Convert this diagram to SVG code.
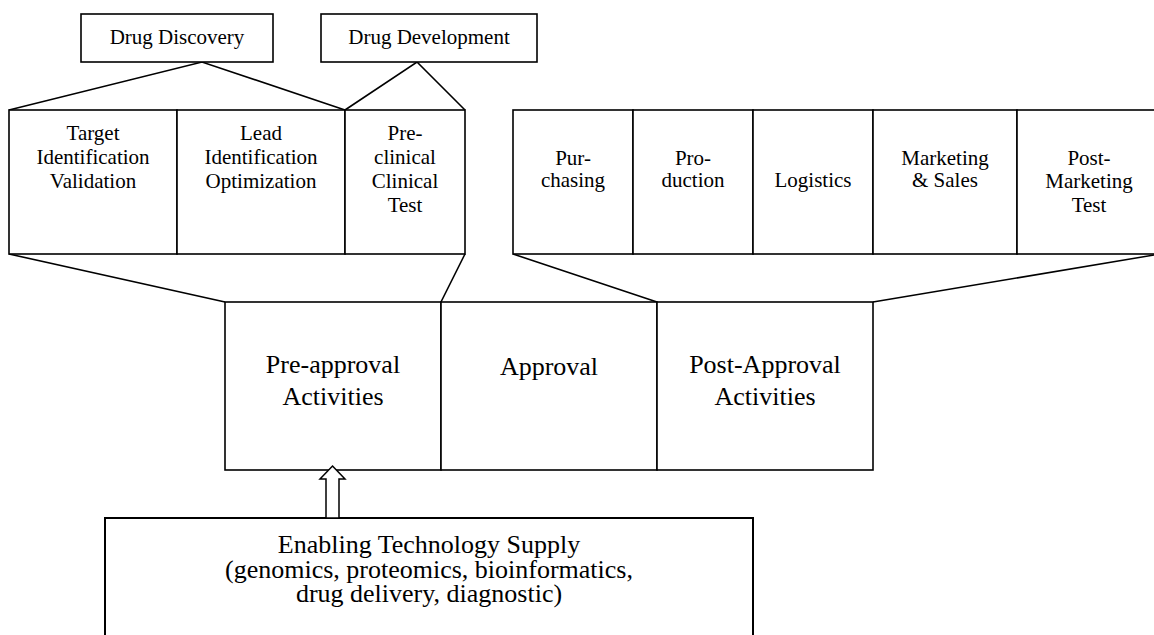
<svg xmlns="http://www.w3.org/2000/svg" width="1154" height="635" viewBox="0 0 1154 635">
<style>
  rect, .ln { fill: #fff; stroke: #000; stroke-width: 1.6; }
  .ln { fill: none; }
  text { font-family: "Liberation Serif", "Times New Roman", serif; fill: #000; text-anchor: middle; }
  .s { font-size: 21px; }
  .b { font-size: 26px; }
  .arrow { fill: #fff; stroke: #000; stroke-width: 1.5; stroke-linejoin: miter; }
</style>
<rect x="0" y="0" width="1154" height="635" style="fill:#fff;stroke:none"/>

<g id="connectors">
  <polyline class="ln" points="9,110 202,62 345,110"/>
  <polyline class="ln" points="345,110 417,62 465,110"/>
  <line class="ln" x1="9" y1="254" x2="225" y2="302"/>
  <line class="ln" x1="465" y1="254" x2="441" y2="302"/>
  <line class="ln" x1="513" y1="254" x2="657" y2="302"/>
  <line class="ln" x1="1160" y1="254" x2="873" y2="302"/>
</g>

<g id="drug-discovery">
  <rect x="81" y="14" width="192" height="48"/>
  <text class="s" x="177" y="44">Drug Discovery</text>
</g>
<g id="drug-development">
  <rect x="321" y="14" width="216" height="48"/>
  <text class="s" x="429" y="44">Drug Development</text>
</g>

<g id="target-identification">
  <rect x="9" y="110" width="168" height="144"/>
  <text class="s" x="93" y="140">Target</text>
  <text class="s" x="93" y="164">Identification</text>
  <text class="s" x="93" y="188">Validation</text>
</g>
<g id="lead-identification">
  <rect x="177" y="110" width="168" height="144"/>
  <text class="s" x="261" y="140">Lead</text>
  <text class="s" x="261" y="164">Identification</text>
  <text class="s" x="261" y="188">Optimization</text>
</g>
<g id="preclinical">
  <rect x="345" y="110" width="120" height="144"/>
  <text class="s" x="405" y="140">Pre-</text>
  <text class="s" x="405" y="164">clinical</text>
  <text class="s" x="405" y="188">Clinical</text>
  <text class="s" x="405" y="212">Test</text>
</g>

<g id="purchasing">
  <rect x="513" y="110" width="120" height="144"/>
  <text class="s" x="573" y="165">Pur-</text>
  <text class="s" x="573" y="187">chasing</text>
</g>
<g id="production">
  <rect x="633" y="110" width="120" height="144"/>
  <text class="s" x="693" y="165">Pro-</text>
  <text class="s" x="693" y="187">duction</text>
</g>
<g id="logistics">
  <rect x="753" y="110" width="120" height="144"/>
  <text class="s" x="813" y="187">Logistics</text>
</g>
<g id="marketing-sales">
  <rect x="873" y="110" width="144" height="144"/>
  <text class="s" x="945" y="165">Marketing</text>
  <text class="s" x="945" y="187">&amp; Sales</text>
</g>
<g id="post-marketing">
  <rect x="1017" y="110" width="143" height="144"/>
  <text class="s" x="1089" y="165">Post-</text>
  <text class="s" x="1089" y="188">Marketing</text>
  <text class="s" x="1089" y="212">Test</text>
</g>

<g id="pre-approval">
  <rect x="225" y="302" width="216" height="168"/>
  <text class="b" x="333" y="373">Pre-approval</text>
  <text class="b" x="333" y="405">Activities</text>
</g>
<g id="approval">
  <rect x="441" y="302" width="216" height="168"/>
  <text class="b" x="549" y="375">Approval</text>
</g>
<g id="post-approval">
  <rect x="657" y="302" width="216" height="168"/>
  <text class="b" x="765" y="373">Post-Approval</text>
  <text class="b" x="765" y="405">Activities</text>
</g>

<g id="enabling-technology">
  <rect x="105" y="518" width="648" height="130" style="stroke-width:2"/>
  <text class="b" x="429" y="553">Enabling Technology Supply</text>
  <text class="b" x="429" y="578">(genomics, proteomics, bioinformatics,</text>
  <text class="b" x="429" y="602">drug delivery, diagnostic)</text>
</g>

<g id="arrow">
  <polygon class="arrow" points="332.5,466 345,479 339,479 339,518 326,518 326,479 320,479"/>
</g>
</svg>
